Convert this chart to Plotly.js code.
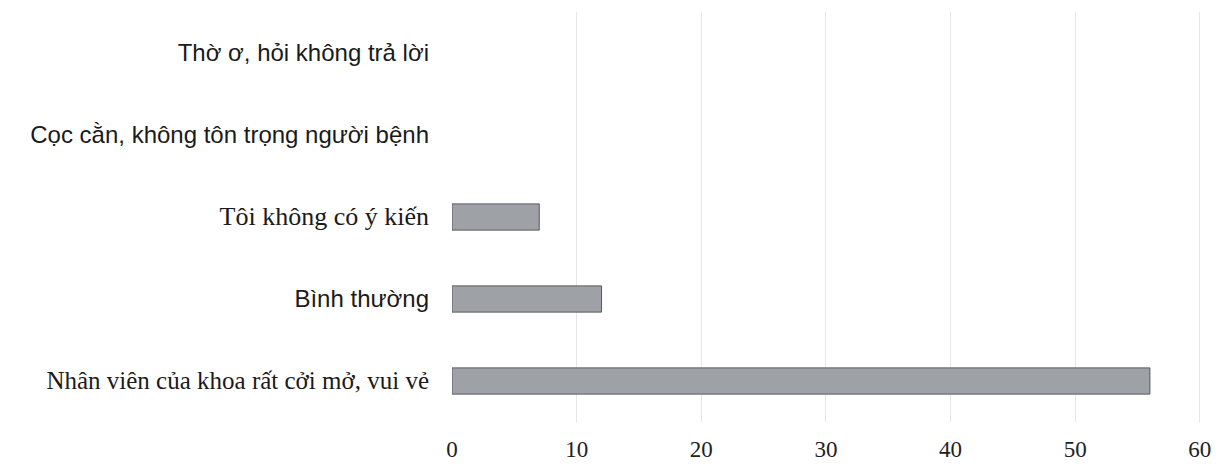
<!DOCTYPE html>
<html><head><meta charset="utf-8">
<script src="https://cdn.plot.ly/plotly-3.0.1.min.js"></script>
<style>body{margin:0;background:#fff}#c{width:1229px;height:474px}</style>
</head><body><div id="c"></div>
<script>
const categories = [
  "Nhân viên của khoa rất cởi mở, vui vẻ",
  "Bình thường",
  "Tôi không có ý kiến",
  "Cọc cằn, không tôn trọng người bệnh",
  "Thờ ơ, hỏi không trả lời"
];
const values = [56, 12, 7, 0, 0];
const labelFonts = ["Liberation Serif", "Liberation Sans", "Liberation Serif", "Liberation Sans", "Liberation Sans"];
const labelSizes = [25, 24, 26, 24, 24];
const xTicks = [0, 10, 20, 30, 40, 50, 60];

const ticktext = categories.map((c, i) => '<span style="font-family:' + labelFonts[i] + ';font-size:' + labelSizes[i] + 'px">' + c + '</span>');

Plotly.newPlot('c', [{
  type: 'bar', orientation: 'h',
  x: values, y: categories,
  marker: {color: '#9ea2a7', line: {color: '#55585c', width: values.map(v => v > 0 ? 1 : 0)}},
  width: 0.32,
  hoverinfo: 'none'
}], {
  width: 1229, height: 474,
  margin: {l: 452, r: 23, t: 12, b: 52},
  paper_bgcolor: '#fff', plot_bgcolor: '#fff',
  showlegend: false,
  xaxis: {
    range: [0, 60.5], tickvals: xTicks, ticktext: xTicks.map(String),
    showgrid: true, gridcolor: '#e6e6e6', gridwidth: 1,
    zeroline: false, showline: false, ticks: '',
    ticklabelstandoff: 11,
    tickfont: {family: 'Liberation Serif', size: 23, color: '#222'}
  },
  yaxis: {
    type: 'category', categoryorder: 'array', categoryarray: categories,
    tickvals: categories, ticktext: ticktext,
    showgrid: false, zeroline: false, showline: false, ticks: '',
    ticklabelstandoff: 22,
    tickfont: {family: 'Liberation Sans', size: 24, color: '#1a1a1a'}
  }
}, {staticPlot: true});
</script></body></html>
